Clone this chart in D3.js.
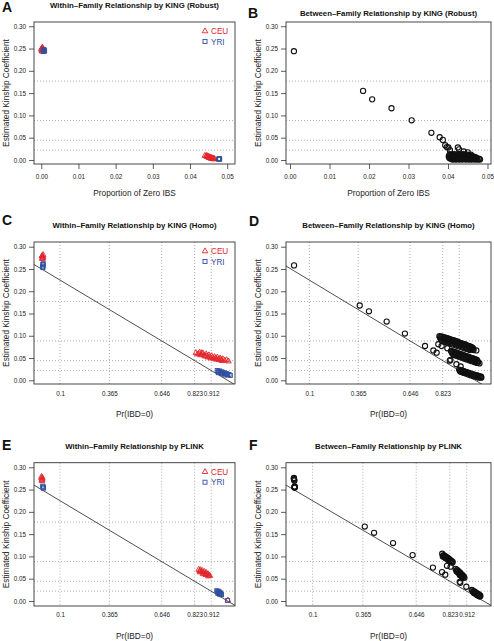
<!DOCTYPE html>
<html><head><meta charset="utf-8">
<script src="https://cdn.jsdelivr.net/npm/d3@7"></script>
<style>
body{margin:0;background:#fff}
text{font-family:"Liberation Sans",Arial,Helvetica,sans-serif}
</style>
</head><body>
<svg id="chart" width="494" height="641"></svg>
<script>
// ---------- tick values / thresholds ----------
const kingThresholds = [0.177, 0.0884, 0.0442, 0.0221];
const zeroIbsTicks = [0, 0.01, 0.02, 0.03, 0.04, 0.05];
const ibd0Ticks = [0.1, 0.365, 0.646, 0.823, 0.912];
const ibd0Labels = ["0.1", "0.365", "0.646", "0.823", "0.912"];
const ibd0LabelsD = ["0.1", "0.365", "0.646", "0.823", ""];
const kinshipTicks = [0, 0.05, 0.1, 0.15, 0.2, 0.25, 0.3];
const legendLabels = ["CEU", "YRI"];

// ---------- Panel A: within-family, KING robust (x = proportion of zero IBS) ----------
const aCEU = [[0.0000,0.249],[0.0002,0.251],[0.0003,0.247],[0.0001,0.246],[0.0004,0.250],[0.0002,0.244],[0.0005,0.248],[0.0003,0.253],
  [0.0440,0.010],[0.0443,0.009],[0.0445,0.010],[0.0446,0.008],[0.0448,0.007],[0.0450,0.008],[0.0451,0.006],[0.0453,0.007],
  [0.0454,0.005],[0.0456,0.006],[0.0457,0.004],[0.0459,0.005],[0.0460,0.003],[0.0462,0.004],[0.0463,0.003],[0.0465,0.002],
  [0.0466,0.003],[0.0447,0.009],[0.0452,0.005],[0.0458,0.003]];
const aYRI = [[0.0006,0.246],[0.0008,0.244],[0.0007,0.248],[0.0009,0.245],[0.0005,0.243],
  [0.0478,0.002],[0.0479,0.003],[0.0477,0.002],[0.0480,0.002]];

// ---------- Panel B: between-family, KING robust ----------
const bPairs = [[0.0010,0.244],[0.0185,0.155],[0.0208,0.136],[0.0257,0.116],[0.0308,0.089],[0.0358,0.061],[0.0379,0.051],
  [0.0387,0.045],[0.0393,0.033],[0.0397,0.029],[0.0401,0.028],[0.0405,0.022],[0.0425,0.028],[0.0428,0.024],[0.0440,0.019],
  [0.0450,0.017],[0.0458,0.012],
  [0.0405,0.013],[0.0410,0.012],[0.0416,0.013],[0.0421,0.012],[0.0427,0.013],[0.0432,0.012],[0.0438,0.013],[0.0444,0.012],[0.0450,0.012],[0.0455,0.011],
  [0.0403,0.010],[0.0409,0.010],[0.0414,0.010],[0.0420,0.010],[0.0425,0.010],[0.0431,0.010],[0.0436,0.010],[0.0442,0.010],[0.0447,0.010],[0.0453,0.010],[0.0458,0.009],
  [0.0402,0.008],[0.0408,0.008],[0.0413,0.008],[0.0419,0.008],[0.0424,0.008],[0.0430,0.008],[0.0435,0.008],[0.0441,0.008],[0.0446,0.008],[0.0452,0.008],[0.0457,0.008],[0.0463,0.008],[0.0468,0.007],
  [0.0403,0.006],[0.0409,0.006],[0.0415,0.006],[0.0420,0.006],[0.0426,0.006],[0.0431,0.006],[0.0437,0.006],[0.0443,0.006],[0.0448,0.006],[0.0454,0.006],[0.0460,0.006],[0.0465,0.005],[0.0471,0.005],
  [0.0404,0.004],[0.0410,0.004],[0.0415,0.004],[0.0421,0.004],[0.0427,0.004],[0.0433,0.004],[0.0438,0.004],[0.0444,0.004],[0.0450,0.004],[0.0455,0.004],[0.0461,0.004],[0.0467,0.004],[0.0472,0.004],[0.0478,0.003],
  [0.0408,0.002],[0.0415,0.002],[0.0422,0.002],[0.0430,0.002],[0.0437,0.002],[0.0445,0.002],[0.0452,0.002],[0.0459,0.002],[0.0466,0.002],[0.0473,0.002],[0.0480,0.002],
  [0.0412,0.001],[0.0420,0.001],[0.0428,0.001],[0.0436,0.001],[0.0445,0.001],[0.0453,0.001],[0.0460,0.001],[0.0468,0.001],[0.0475,0.001],[0.0481,0.001]];

// ---------- Panel C: within-family, KING homo (x = Pr(IBD=0)) ----------
const cCEU = [[0.004,0.280],[0.006,0.276],[0.008,0.278],[0.005,0.273],[0.009,0.282],[0.007,0.275],[0.003,0.279],
  [0.830,0.062],[0.845,0.060],[0.850,0.063],[0.860,0.058],[0.868,0.061],[0.875,0.056],[0.885,0.059],[0.890,0.055],
  [0.900,0.057],[0.905,0.053],[0.915,0.055],[0.920,0.051],[0.930,0.053],[0.935,0.050],[0.945,0.052],[0.950,0.048],
  [0.960,0.050],[0.965,0.047],[0.975,0.048],[0.985,0.045],[0.995,0.046],[1.005,0.043],[0.855,0.057],[0.880,0.054],
  [0.910,0.050],[0.940,0.047],[0.970,0.044],[0.838,0.059],[0.862,0.062],[0.895,0.052],[0.925,0.049],[0.955,0.046]];
const cYRI = [[0.007,0.260],[0.009,0.257],[0.006,0.255],[0.010,0.262],[0.008,0.253],
  [0.945,0.022],[0.952,0.020],[0.958,0.021],[0.962,0.018],[0.970,0.019],[0.975,0.016],[0.982,0.017],[0.988,0.014],
  [0.995,0.015],[1.000,0.012],[1.008,0.013],[1.015,0.011],[0.950,0.017],[0.968,0.015],[0.985,0.012]];

// ---------- Panel D: between-family, KING homo ----------
const dPairs = [[0.017,0.258],[0.373,0.168],[0.423,0.155],[0.519,0.132],[0.618,0.105],[0.727,0.077],[0.772,0.067],
  [0.790,0.062],[0.799,0.081],[0.817,0.077],[0.848,0.072],[0.861,0.044],[0.865,0.046],[0.897,0.036],[0.920,0.031],[1.005,0.067],
  [0.805,0.099],[0.820,0.098],[0.835,0.096],[0.850,0.094],[0.865,0.092],[0.880,0.090],[0.895,0.088],[0.910,0.085],
  [0.925,0.083],[0.940,0.081],[0.955,0.078],[0.970,0.076],[0.985,0.073],
  [0.813,0.098],[0.828,0.097],[0.843,0.095],[0.858,0.093],[0.873,0.091],[0.888,0.089],[0.903,0.087],[0.918,0.084],
  [0.933,0.082],[0.948,0.080],[0.963,0.077],[0.978,0.075],
  [0.808,0.096],[0.823,0.094],[0.838,0.092],[0.853,0.090],[0.868,0.088],[0.883,0.086],[0.898,0.084],[0.913,0.082],
  [0.928,0.080],[0.943,0.077],[0.958,0.075],[0.973,0.073],[0.988,0.071],
  [0.812,0.092],[0.828,0.090],[0.843,0.088],[0.858,0.086],[0.873,0.084],[0.888,0.082],[0.903,0.080],[0.918,0.078],
  [0.933,0.076],[0.948,0.074],[0.963,0.072],[0.978,0.070],[0.990,0.068],
  [0.820,0.088],[0.835,0.086],[0.850,0.084],[0.865,0.082],[0.880,0.080],[0.895,0.078],[0.910,0.076],[0.925,0.074],
  [0.940,0.072],[0.955,0.070],[0.970,0.068],
  [0.868,0.066],[0.882,0.064],[0.896,0.062],[0.910,0.060],[0.924,0.058],[0.938,0.056],[0.952,0.054],[0.966,0.052],
  [0.980,0.050],[0.994,0.048],[1.008,0.046],
  [0.875,0.065],[0.889,0.063],[0.903,0.061],[0.917,0.059],[0.931,0.057],[0.945,0.055],[0.959,0.053],[0.973,0.051],
  [0.987,0.049],[1.001,0.047],
  [0.872,0.063],[0.886,0.061],[0.900,0.059],[0.914,0.057],[0.928,0.055],[0.942,0.053],[0.956,0.051],[0.970,0.049],
  [0.984,0.047],[0.998,0.045],[1.012,0.043],
  [0.875,0.060],[0.889,0.058],[0.903,0.056],[0.917,0.054],[0.931,0.052],[0.945,0.050],[0.959,0.048],[0.973,0.046],
  [0.987,0.044],[1.001,0.042],[1.015,0.040],
  [0.882,0.057],[0.896,0.055],[0.910,0.053],[0.924,0.051],[0.938,0.049],[0.952,0.047],[0.966,0.045],[0.980,0.043],
  [0.994,0.041],[1.008,0.039],[1.022,0.038],
  [0.912,0.024],[0.926,0.022],[0.940,0.020],[0.954,0.018],[0.968,0.016],[0.982,0.014],[0.996,0.012],[1.010,0.011],[1.024,0.009],
  [0.919,0.023],[0.933,0.021],[0.947,0.019],[0.961,0.017],[0.975,0.015],[0.989,0.013],[1.003,0.011],[1.017,0.010],[1.031,0.008],
  [0.916,0.021],[0.930,0.019],[0.944,0.017],[0.958,0.016],[0.972,0.014],[0.986,0.012],[1.000,0.010],[1.014,0.009],[1.028,0.007],
  [0.920,0.019],[0.934,0.017],[0.948,0.015],[0.962,0.013],[0.976,0.011],[0.990,0.009],[1.004,0.008],[1.018,0.006],[1.032,0.006]];

// ---------- Panel E: within-family, PLINK ----------
const eCEU = [[0.001,0.276],[0.003,0.272],[0.000,0.279],[0.004,0.274],[0.002,0.270],[0.005,0.277],
  [0.845,0.071],[0.850,0.068],[0.855,0.070],[0.860,0.066],[0.865,0.068],[0.870,0.064],[0.875,0.066],[0.880,0.062],
  [0.885,0.064],[0.890,0.060],[0.895,0.061],[0.900,0.058],[0.905,0.057],[0.852,0.065],[0.868,0.061],[0.883,0.059],
  [0.897,0.056],[1.002,0.002]];
const eYRI = [[0.008,0.256],[0.010,0.253],[0.007,0.258],[0.011,0.255],
  [0.942,0.023],[0.946,0.021],[0.950,0.022],[0.953,0.019],[0.957,0.020],[0.960,0.017],[0.963,0.018],[0.966,0.015],
  [0.968,0.014],[0.948,0.017],[0.958,0.015],[1.000,0.001]];

// ---------- Panel F: between-family, PLINK ----------
const fPairs = [[0.002,0.276],[0.003,0.272],[0.001,0.274],[0.004,0.270],[0.006,0.257],[0.005,0.254],[0.007,0.255],[0.004,0.256],
  [0.375,0.167],[0.424,0.153],[0.524,0.130],[0.627,0.103],[0.734,0.075],[0.782,0.065],[0.799,0.059],[0.808,0.079],
  [0.827,0.077],[0.875,0.064],[0.875,0.043],[0.878,0.041],[0.910,0.032],[0.938,0.025],
  [0.783,0.106],[0.790,0.103],[0.797,0.101],[0.804,0.099],[0.811,0.097],[0.818,0.095],[0.825,0.092],[0.832,0.090],
  [0.838,0.088],[0.786,0.100],[0.800,0.096],[0.814,0.092],
  [0.788,0.101],[0.795,0.099],[0.802,0.097],[0.809,0.095],[0.816,0.093],[0.823,0.090],[0.830,0.088],[0.836,0.086],
  [0.854,0.072],[0.860,0.070],[0.866,0.068],[0.872,0.065],[0.878,0.063],[0.884,0.060],[0.890,0.058],[0.896,0.055],
  [0.900,0.052],[0.862,0.066],[0.876,0.060],[0.888,0.055],
  [0.858,0.067],[0.864,0.065],[0.870,0.062],[0.876,0.058],[0.882,0.057],[0.888,0.054],[0.894,0.052],
  [0.942,0.024],[0.948,0.022],[0.954,0.021],[0.960,0.019],[0.966,0.017],[0.972,0.016],[0.978,0.014],[0.984,0.012],
  [0.950,0.018],[0.964,0.015],[0.976,0.012],
  [0.946,0.020],[0.952,0.018],[0.958,0.017],[0.964,0.014],[0.970,0.013],[0.976,0.011],[0.982,0.010]];

// ---------- styling ----------
const RED = "#e3262b", BLUE = "#2f4f9f", BLACK = "#111";
const FONT_TICK = 6.3, FONT_TITLE = 7.8, FONT_AXIS = 8.3, FONT_LETTER = 14;

const panels = [
  {letter:"A", lx:2, ly:12, title:"Within\u2013Family Relationship by KING (Robust)", ty:8,
   box:[34,235,22,164], xd:[-0.00196,0.0521], yd:[-0.009,0.3095], xTicks:zeroIbsTicks, xLabels:null,
   xTickSize:5, xPad:6, vGrid:false, line:false, xLabel:"Proportion of Zero IBS", legend:true,
   series:[{data:aCEU,sym:"tri",color:RED},{data:aYRI,sym:"sq",color:BLUE}]},
  {letter:"B", lx:248, ly:18, title:"Between\u2013Family Relationship by KING (Robust)", ty:16,
   box:[286,491,22,164], xd:[-0.00101,0.05089], yd:[-0.009,0.3095], xTicks:zeroIbsTicks, xLabels:null,
   xTickSize:5, xPad:6, vGrid:false, line:false, xLabel:"Proportion of Zero IBS", legend:false,
   series:[{data:bPairs,sym:"circ",color:BLACK}]},
  {letter:"C", lx:2, ly:225, title:"Within\u2013Family Relationship by KING (Homo)", ty:228,
   box:[34,235,242,384], xd:[-0.04,1.04], yd:[-0.0083,0.3106], xTicks:ibd0Ticks, xLabels:ibd0Labels,
   xTickSize:0, xPad:8, vGrid:true, line:true, xLabel:"Pr(IBD=0)", legend:true,
   series:[{data:cCEU,sym:"tri",color:RED},{data:cYRI,sym:"sq",color:BLUE}]},
  {letter:"D", lx:249, ly:226, title:"Between\u2013Family Relationship by KING (Homo)", ty:228,
   box:[286,491,242,384], xd:[-0.0266,1.0846], yd:[-0.0083,0.3106], xTicks:ibd0Ticks, xLabels:ibd0LabelsD,
   xTickSize:0, xPad:8, vGrid:true, line:true, xLabel:"Pr(IBD=0)", legend:false,
   series:[{data:dPairs,sym:"circ",color:BLACK}]},
  {letter:"E", lx:2, ly:450, title:"Within\u2013Family Relationship by PLINK", ty:449,
   box:[34,235,462.7,606], xd:[-0.04,1.04], yd:[-0.0112,0.3103], xTicks:ibd0Ticks, xLabels:ibd0Labels,
   xTickSize:0, xPad:7, vGrid:true, line:true, xLabel:"Pr(IBD=0)", legend:true,
   series:[{data:eCEU,sym:"tri",color:RED},{data:eYRI,sym:"sq",color:BLUE}]},
  {letter:"F", lx:249, ly:450, title:"Between\u2013Family Relationship by PLINK", ty:449,
   box:[286,491,462.7,606], xd:[-0.04,1.04], yd:[-0.0112,0.3103], xTicks:ibd0Ticks, xLabels:ibd0Labels,
   xTickSize:0, xPad:7, vGrid:true, line:true, xLabel:"Pr(IBD=0)", legend:false,
   series:[{data:fPairs,sym:"circ",color:BLACK}]}
];

const svg = d3.select("#chart");
const defs = svg.append("defs");

function drawSymbol(g, sym, cx, cy, color) {
  if (sym === "tri") {
    g.append("path").attr("d", `M${cx},${cy-3.1}L${cx+2.8},${cy+1.8}L${cx-2.8},${cy+1.8}Z`)
      .attr("fill","none").attr("stroke",color).attr("stroke-width",0.9);
  } else if (sym === "sq") {
    g.append("rect").attr("x",cx-2).attr("y",cy-2).attr("width",4).attr("height",4)
      .attr("fill","none").attr("stroke",color).attr("stroke-width",0.9);
  } else {
    g.append("circle").attr("cx",cx).attr("cy",cy).attr("r",2.6)
      .attr("fill","none").attr("stroke",color).attr("stroke-width",1.1);
  }
}

panels.forEach(p => {
  const [bx0,bx1,by0,by1] = p.box;
  const x = d3.scaleLinear().domain(p.xd).range([bx0,bx1]);
  const y = d3.scaleLinear().domain(p.yd).range([by1,by0]);
  const g = svg.append("g");
  const cid = "clip" + p.letter;
  defs.append("clipPath").attr("id",cid).append("rect")
    .attr("x",bx0).attr("y",by0).attr("width",bx1-bx0).attr("height",by1-by0);

  // grid lines
  const grid = g.append("g").attr("stroke","#999").attr("stroke-width",0.8).attr("stroke-dasharray","1,2");
  kingThresholds.forEach(t => grid.append("line").attr("x1",bx0).attr("x2",bx1).attr("y1",y(t)).attr("y2",y(t)));
  if (p.vGrid) p.xTicks.forEach(t => grid.append("line").attr("x1",x(t)).attr("x2",x(t)).attr("y1",by0).attr("y2",by1));

  // reference line kinship = (1 - Pr(IBD=0)) / 4
  if (p.line) {
    g.append("line").attr("clip-path",`url(#${cid})`)
      .attr("x1",x(p.xd[0])).attr("y1",y(0.25-0.25*p.xd[0]))
      .attr("x2",x(p.xd[1])).attr("y2",y(0.25-0.25*p.xd[1]))
      .attr("stroke","#222").attr("stroke-width",0.8);
  }

  // points
  const pts = g.append("g").attr("clip-path",`url(#${cid})`);
  p.series.forEach(s => s.data.forEach(d => drawSymbol(pts, s.sym, x(d[0]), y(d[1]), s.color)));

  // box
  g.append("rect").attr("x",bx0).attr("y",by0).attr("width",bx1-bx0).attr("height",by1-by0)
    .attr("fill","none").attr("stroke","#333").attr("stroke-width",0.9);

  // y axis
  const ya = g.append("g").attr("transform",`translate(${bx0},0)`)
    .call(d3.axisLeft(y).tickValues(kinshipTicks).tickFormat(d3.format(".2f")).tickSize(5).tickPadding(3));
  ya.select(".domain").remove();
  ya.selectAll("text").attr("font-size",FONT_TICK).attr("fill","#222").style("font-family",'"Liberation Sans",Arial,sans-serif');
  ya.selectAll("line").attr("stroke","#333").attr("stroke-width",0.8);

  // x axis
  const fmt = p.xLabels ? ((d,i) => p.xLabels[i]) : d3.format(".2f");
  const xa = g.append("g").attr("transform",`translate(0,${by1})`)
    .call(d3.axisBottom(x).tickValues(p.xTicks).tickFormat(fmt).tickSize(p.xTickSize).tickPadding(p.xPad));
  xa.select(".domain").remove();
  xa.selectAll("text").attr("font-size",FONT_TICK).attr("fill","#222").style("font-family",'"Liberation Sans",Arial,sans-serif');
  xa.selectAll("line").attr("stroke","#333").attr("stroke-width",0.8);

  // axis titles
  g.append("text").attr("x",(bx0+bx1)/2).attr("y",by1+(p.vGrid?33:32)).attr("text-anchor","middle")
    .attr("font-size",FONT_AXIS).attr("fill","#222").text(p.xLabel);
  g.append("text").attr("transform",`translate(${bx0-25},${(by0+by1)/2}) rotate(-90)`).attr("text-anchor","middle")
    .attr("font-size",FONT_AXIS).attr("fill","#222").text("Estimated Kinship Coefficient");

  // title and panel letter
  g.append("text").attr("x",(bx0+bx1)/2).attr("y",p.ty).attr("text-anchor","middle")
    .attr("font-size",FONT_TITLE).attr("font-weight","bold").attr("fill","#111").text(p.title);
  g.append("text").attr("x",p.lx).attr("y",p.ly).attr("font-size",FONT_LETTER).attr("font-weight","bold")
    .attr("fill","#111").text(p.letter);

  // legend
  if (p.legend) {
    const colors = [RED, BLUE], syms = ["tri","sq"];
    legendLabels.forEach((lab,i) => {
      const ly = by0 + 9 + i*10.5;
      drawSymbol(g, syms[i], bx1-30, ly, colors[i]);
      g.append("text").attr("x",bx1-24).attr("y",ly+3).attr("font-size",8.2).attr("fill",colors[i]).text(lab);
    });
  }
});
</script>
</body></html>
